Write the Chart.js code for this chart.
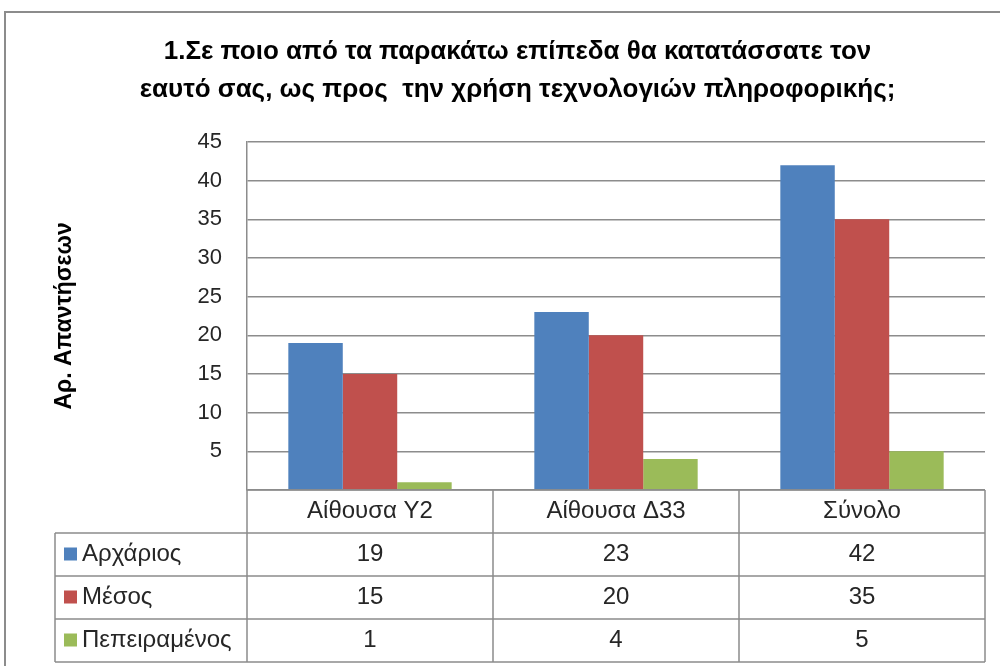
<!DOCTYPE html>
<html>
<head>
<meta charset="utf-8">
<script src="https://cdn.jsdelivr.net/npm/chart.js@4.4.0/dist/chart.umd.min.js"></script>
<style>
html, body { margin: 0; padding: 0; background: #fff; }
</style>
</head>
<body>
<canvas id="myChart" width="1000" height="666"></canvas>
<script>
// data
const categories = ['Αίθουσα Υ2', 'Αίθουσα Δ33', 'Σύνολο'];
const seriesNames = ['Αρχάριος', 'Μέσος', 'Πεπειραμένος'];
const beginner = [19, 23, 42];
const intermediate = [15, 20, 35];
const experienced = [1, 4, 5];
const yTickValues = [0, 5, 10, 15, 20, 25, 30, 35, 40, 45];

const FONT = '"Liberation Sans", Arial, sans-serif';
const LINE = '#8c8c8c';
const colors = ['#4F81BD', '#C0504D', '#9BBB59'];

// white page + grey frame (the reference is cropped at the right and bottom)
const frame = {
    id: 'frame',
    beforeDraw(chart) {
        const ctx = chart.ctx;
        ctx.save();
        ctx.fillStyle = '#fff';
        ctx.fillRect(0, 0, chart.width, chart.height);
        ctx.strokeStyle = LINE;
        ctx.lineWidth = 2;
        ctx.beginPath();
        ctx.moveTo(5, chart.height + 5);
        ctx.lineTo(5, 12);
        ctx.lineTo(chart.width + 5, 12);
        ctx.stroke();
        ctx.restore();
    }
};

// Excel style data table under the plot, columns taken from the x scale
const dataTable = {
    id: 'dataTable',
    afterDraw(chart) {
        const {ctx, chartArea, scales: {x}} = chart;
        const n = categories.length;
        const colW = (chartArea.right - chartArea.left) / n;
        const rowH = 43;
        const top = chartArea.bottom;
        const labelLeft = 55;
        const rows = chart.data.datasets.length;

        ctx.save();
        ctx.strokeStyle = LINE;
        ctx.lineWidth = 1.5;
        ctx.beginPath();
        // header row
        ctx.moveTo(chartArea.left, top);
        ctx.lineTo(chartArea.right, top);
        for (let r = 1; r <= rows + 1; r++) {
            ctx.moveTo(labelLeft, top + r * rowH);
            ctx.lineTo(chartArea.right, top + r * rowH);
        }
        for (let c = 0; c <= n; c++) {
            const cx = x.getPixelForValue(0) - colW / 2 + c * colW;
            ctx.moveTo(cx, top);
            ctx.lineTo(cx, top + (rows + 1) * rowH);
        }
        ctx.moveTo(labelLeft, top + rowH);
        ctx.lineTo(labelLeft, top + (rows + 1) * rowH);
        ctx.stroke();

        ctx.fillStyle = '#262626';
        ctx.font = '24px ' + FONT;
        ctx.textBaseline = 'middle';
        ctx.textAlign = 'center';
        categories.forEach((cat, i) => {
            ctx.fillText(cat, x.getPixelForValue(i), top + rowH / 2);
        });
        chart.data.datasets.forEach((ds, r) => {
            const cy = top + (r + 1) * rowH + rowH / 2;
            ctx.fillStyle = ds.backgroundColor;
            ctx.fillRect(labelLeft + 9, cy - 7, 13, 13);
            ctx.fillStyle = '#262626';
            ctx.textAlign = 'left';
            ctx.fillText(ds.label, labelLeft + 27, cy);
            ctx.textAlign = 'center';
            ds.data.forEach((v, i) => {
                ctx.fillText(String(v), x.getPixelForValue(i), cy);
            });
        });
        ctx.restore();
    }
};

const config = {
    type: 'bar',
    data: {
        labels: categories,
        datasets: [
            { label: seriesNames[0], data: beginner, backgroundColor: colors[0] },
            { label: seriesNames[1], data: intermediate, backgroundColor: colors[1] },
            { label: seriesNames[2], data: experienced, backgroundColor: colors[2] }
        ]
    },
    options: {
        responsive: false,
        animation: false,
        devicePixelRatio: 1,
        datasets: {
            bar: { categoryPercentage: 0.664, barPercentage: 1 }
        },
        layout: {
            padding: { left: 50, right: 15, top: 0, bottom: 176 }
        },
        scales: {
            x: { display: false },
            y: {
                min: 0,
                max: 45,
                afterBuildTicks(scale) {
                    scale.ticks = yTickValues.map(v => ({ value: v }));
                },
                afterFit(scale) { scale.width = 197; },
                border: { display: true, color: LINE, width: 1.5 },
                grid: { color: LINE, lineWidth: 1.5, drawTicks: false },
                ticks: {
                    padding: 25,
                    color: '#262626',
                    font: { family: FONT, size: 22 },
                    callback: v => (v === 0 ? '' : v)
                },
                title: {
                    display: true,
                    text: 'Αρ. Απαντήσεων',
                    color: '#000',
                    font: { family: FONT, size: 23, weight: 'bold' },
                    padding: { top: 1, bottom: 0 }
                }
            }
        },
        plugins: {
            legend: { display: false },
            tooltip: { enabled: false },
            title: {
                display: true,
                text: [
                    '1.Σε ποιο από τα παρακάτω επίπεδα θα κατατάσσατε τον',
                    'εαυτό σας, ως προς  την χρήση τεχνολογιών πληροφορικής;'
                ],
                color: '#000',
                font: { family: FONT, size: 26, weight: 'bold', lineHeight: 1.46 },
                padding: { top: 33, bottom: 33 }
            }
        }
    },
    plugins: [frame, dataTable]
};

const chart = new Chart(document.getElementById('myChart'), config);
</script>
</body>
</html>
